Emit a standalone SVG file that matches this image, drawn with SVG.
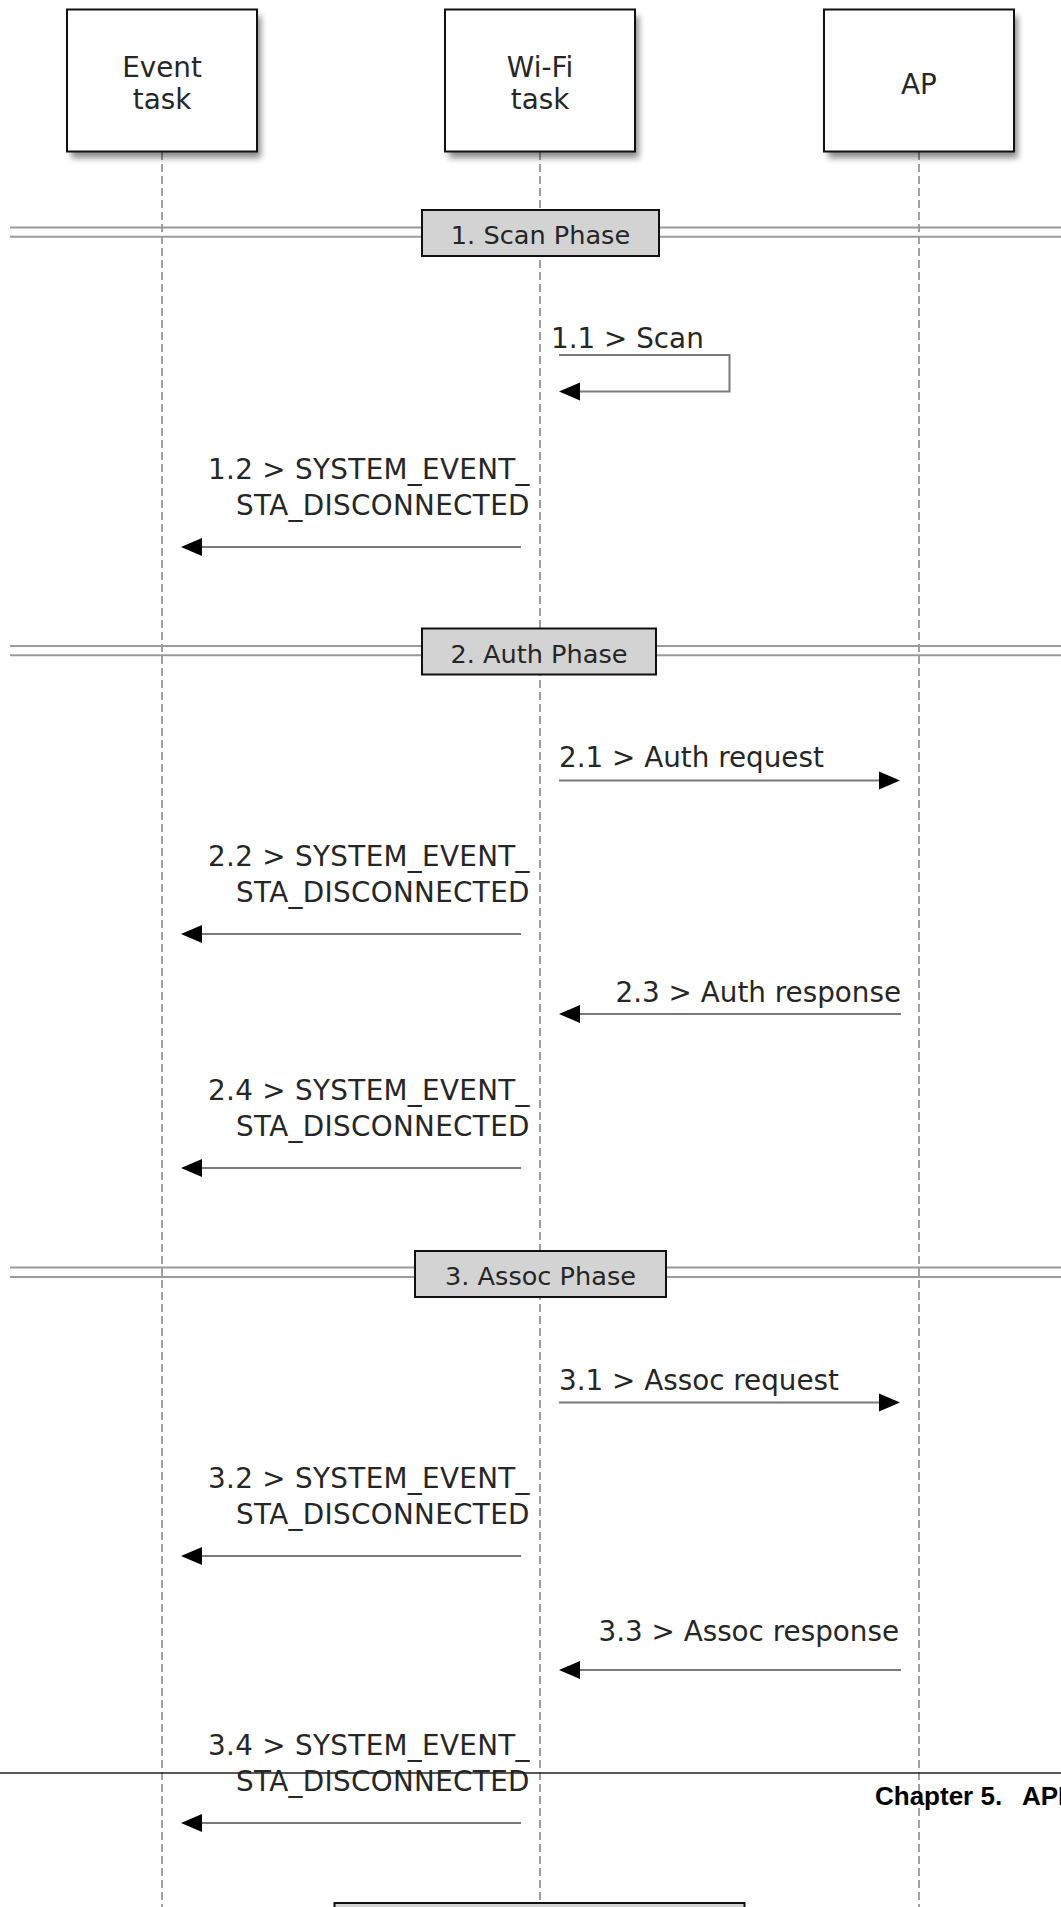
<svg xmlns="http://www.w3.org/2000/svg" width="1061" height="1907" viewBox="0 0 1061 1907">
<style>
.bg{fill:#fff}
.actor{fill:#fff;stroke:#111;stroke-width:2}
.shadow{fill:#000;opacity:.45}
.life{stroke:#8a8a8a;stroke-width:1.6;stroke-dasharray:8 4;fill:none}
.sep{stroke:#9a9a9a;stroke-width:2;fill:none}
.phase{fill:#d3d3d3;stroke:#111;stroke-width:2}
.msg{stroke:#7a7a7a;stroke-width:2;fill:none}
.t{font-family:"DejaVu Sans",sans-serif;font-size:27.8px;fill:#262626}
.pt{font-family:"DejaVu Sans",sans-serif;font-size:25.6px;fill:#262626}
.mid{text-anchor:middle}
.end{text-anchor:end}
.hdr{font-family:"Liberation Sans",Arial,sans-serif;font-size:26px;font-weight:bold;fill:#000}
</style>
<defs>
<filter id="blur" x="-20%" y="-20%" width="140%" height="140%"><feGaussianBlur stdDeviation="3"/></filter>
<marker id="ah" markerUnits="userSpaceOnUse" markerWidth="22" markerHeight="20" refX="0" refY="9" orient="auto" overflow="visible">
<path d="M0,0 L21,9 L0,18 z" fill="#000"/>
</marker>
</defs>
<rect class="bg" x="0" y="0" width="1061" height="1907"/>

<g id="lifelines">
<line class="life" x1="162" y1="152" x2="162" y2="1907"/>
<line class="life" x1="540" y1="152" x2="540" y2="1903"/>
<line class="life" x1="919" y1="152" x2="919" y2="1907"/>
</g>

<g id="node-event">
<rect class="shadow" x="71" y="16" width="190" height="142" filter="url(#blur)"/>
<rect class="actor" x="67" y="9.5" width="190" height="142"/>
<text class="t mid" x="162" y="77">Event</text>
<text class="t mid" x="162" y="109">task</text>
</g>
<g id="node-wifi">
<rect class="shadow" x="449" y="16" width="190" height="142" filter="url(#blur)"/>
<rect class="actor" x="445" y="9.5" width="190" height="142"/>
<text class="t mid" x="540" y="77">Wi-Fi</text>
<text class="t mid" x="540" y="109">task</text>
</g>
<g id="node-ap">
<rect class="shadow" x="828" y="16" width="190" height="142" filter="url(#blur)"/>
<rect class="actor" x="824" y="9.5" width="190" height="142"/>
<text class="t mid" x="919" y="94">AP</text>
</g>

<g id="phase-1">
<line class="sep" x1="10" y1="227.5" x2="1061" y2="227.5"/>
<line class="sep" x1="10" y1="236.8" x2="1061" y2="236.8"/>
<rect class="phase" x="422" y="210" width="237" height="46"/>
<text class="pt mid" x="540.5" y="244">1. Scan Phase</text>
</g>
<g id="phase-2">
<line class="sep" x1="10" y1="646" x2="1061" y2="646"/>
<line class="sep" x1="10" y1="655.3" x2="1061" y2="655.3"/>
<rect class="phase" x="422" y="628.5" width="234" height="46"/>
<text class="pt mid" x="539" y="662.5">2. Auth Phase</text>
</g>
<g id="phase-3">
<line class="sep" x1="10" y1="1267.5" x2="1061" y2="1267.5"/>
<line class="sep" x1="10" y1="1277" x2="1061" y2="1277"/>
<rect class="phase" x="415" y="1251" width="251" height="46"/>
<text class="pt mid" x="540.5" y="1285">3. Assoc Phase</text>
</g>
<g id="node-bottom">
<rect class="phase" x="334.5" y="1903" width="410" height="30"/>
</g>

<g id="connectors">
<path class="msg" d="M559,355 H729.5 V391.5 H580" marker-end="url(#ah)"/>
<line class="msg" x1="521" y1="547" x2="202" y2="547" marker-end="url(#ah)"/>
<line class="msg" x1="559" y1="780.5" x2="879" y2="780.5" marker-end="url(#ah)"/>
<line class="msg" x1="521" y1="934" x2="202" y2="934" marker-end="url(#ah)"/>
<line class="msg" x1="901" y1="1014" x2="580" y2="1014" marker-end="url(#ah)"/>
<line class="msg" x1="521" y1="1168" x2="202" y2="1168" marker-end="url(#ah)"/>
<line class="msg" x1="559" y1="1402.5" x2="879" y2="1402.5" marker-end="url(#ah)"/>
<line class="msg" x1="521" y1="1556" x2="202" y2="1556" marker-end="url(#ah)"/>
<line class="msg" x1="901" y1="1670" x2="580" y2="1670" marker-end="url(#ah)"/>
<line class="msg" x1="521" y1="1823" x2="202" y2="1823" marker-end="url(#ah)"/>
</g>

<g id="labels">
<text class="t" x="551" y="348">1.1 &gt; Scan</text>
<text class="t" x="208" y="478.5" textLength="321.5">1.2 &gt; SYSTEM_EVENT_</text>
<text class="t" x="236" y="514.5" textLength="293.5">STA_DISCONNECTED</text>
<text class="t" x="559" y="767">2.1 &gt; Auth request</text>
<text class="t" x="208" y="865.5" textLength="321.5">2.2 &gt; SYSTEM_EVENT_</text>
<text class="t" x="236" y="901.5" textLength="293.5">STA_DISCONNECTED</text>
<text class="t end" x="901" y="1002">2.3 &gt; Auth response</text>
<text class="t" x="208" y="1099.5" textLength="321.5">2.4 &gt; SYSTEM_EVENT_</text>
<text class="t" x="236" y="1135.5" textLength="293.5">STA_DISCONNECTED</text>
<text class="t" x="559" y="1390">3.1 &gt; Assoc request</text>
<text class="t" x="208" y="1487.5" textLength="321.5">3.2 &gt; SYSTEM_EVENT_</text>
<text class="t" x="236" y="1523.5" textLength="293.5">STA_DISCONNECTED</text>
<text class="t end" x="899" y="1640.5">3.3 &gt; Assoc response</text>
<text class="t" x="208" y="1754.5" textLength="321.5">3.4 &gt; SYSTEM_EVENT_</text>
<text class="t" x="236" y="1790.5" textLength="293.5">STA_DISCONNECTED</text>
</g>

<g id="page-header">
<line x1="0" y1="1773" x2="1061" y2="1773" stroke="#222" stroke-width="1.5"/>
<text class="hdr" y="1805"><tspan x="875">Chapter 5.</tspan><tspan x="1022">API</tspan></text>
</g>
</svg>
